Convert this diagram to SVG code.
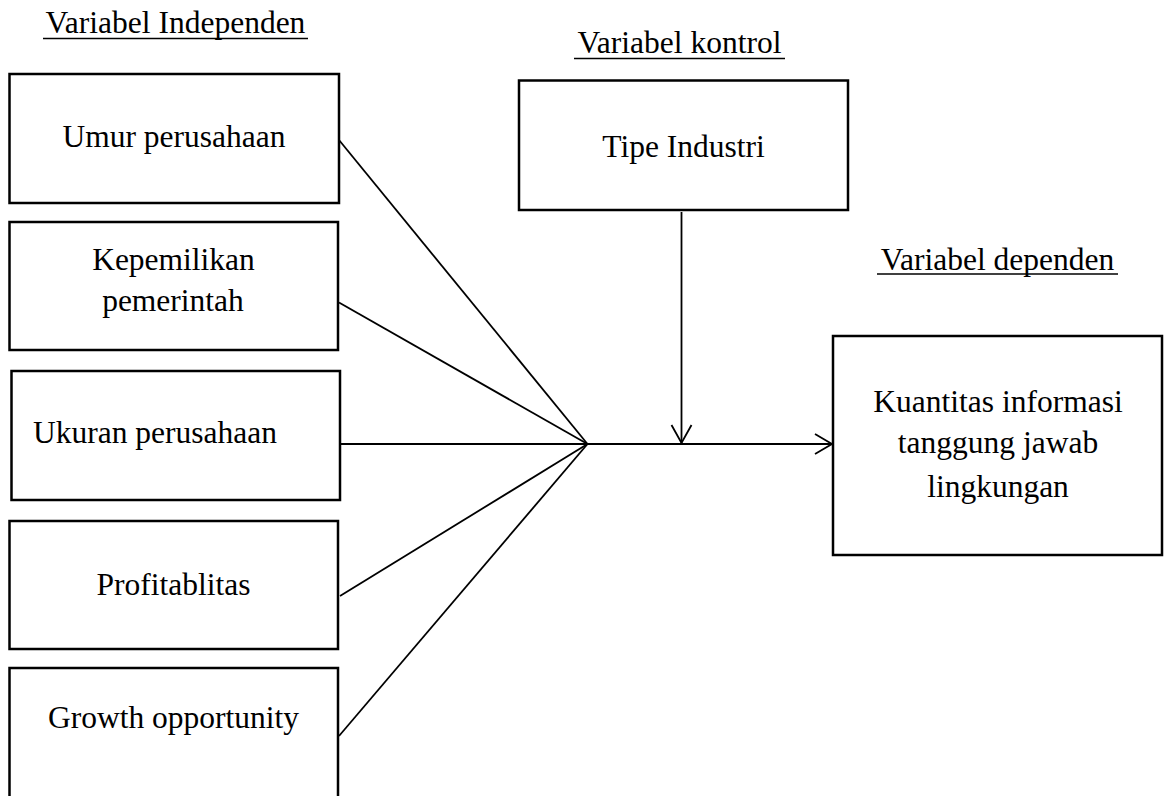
<svg xmlns="http://www.w3.org/2000/svg" width="1166" height="796" viewBox="0 0 1166 796">
<style>
.box{fill:#fff;stroke:#000;stroke-width:2.5}
.t{font-family:"Liberation Serif","Times New Roman",serif;font-size:31.5px;fill:#000;text-anchor:middle}
.ul{stroke:#000;stroke-width:1.6}
.c{stroke:#000;stroke-width:1.8;fill:none}
</style>
<rect width="1166" height="796" fill="#fff"/>
<g id="headings">
<text class="t" x="175.5" y="33">Variabel Independen</text>
<line class="ul" x1="43" y1="38.5" x2="308" y2="38.5"/>
<text class="t" x="679.5" y="53">Variabel kontrol</text>
<line class="ul" x1="574" y1="58.5" x2="785" y2="58.5"/>
<text class="t" x="997.5" y="270">Variabel dependen</text>
<line class="ul" x1="877" y1="274" x2="1118" y2="274"/>
</g>
<g id="umur">
<rect class="box" x="9.5" y="74" width="329.5" height="129"/>
<text class="t" x="174" y="147">Umur perusahaan</text>
</g>
<g id="kepemilikan">
<rect class="box" x="9.5" y="222" width="328.5" height="128"/>
<text class="t" x="173.5" y="270">Kepemilikan</text>
<text class="t" x="173" y="311">pemerintah</text>
</g>
<g id="ukuran">
<rect class="box" x="11.5" y="371" width="328.5" height="129"/>
<text class="t" x="33" y="443" style="text-anchor:start">Ukuran perusahaan</text>
</g>
<g id="profitabilitas">
<rect class="box" x="9.5" y="521" width="328.5" height="128"/>
<text class="t" x="173.5" y="595">Profitablitas</text>
</g>
<g id="growth">
<rect class="box" x="9.5" y="668" width="328.5" height="140"/>
<text class="t" x="173.5" y="728">Growth opportunity</text>
</g>
<g id="tipe">
<rect class="box" x="519" y="80.5" width="329" height="129.5"/>
<text class="t" x="683.5" y="157">Tipe Industri</text>
</g>
<g id="kuantitas">
<rect class="box" x="833" y="336" width="329" height="219"/>
<text class="t" x="998" y="412">Kuantitas informasi</text>
<text class="t" x="998" y="453">tanggung jawab</text>
<text class="t" x="998" y="497">lingkungan</text>
</g>
<g id="connectors">
<line class="c" x1="339" y1="140" x2="587.5" y2="444"/>
<line class="c" x1="339" y1="302.5" x2="587.5" y2="444"/>
<line class="c" x1="340" y1="444" x2="587.5" y2="444"/>
<line class="c" x1="340" y1="596" x2="587.5" y2="444"/>
<line class="c" x1="339" y1="736" x2="587.5" y2="444"/>
<line class="c" x1="587.5" y1="444" x2="832" y2="444"/>
<polyline class="c" points="815,434 832,444 815,454"/>
<line class="c" x1="681.5" y1="212" x2="681.5" y2="443"/>
<polyline class="c" points="671.5,425 681.5,443 691.5,425"/>
</g>
</svg>
